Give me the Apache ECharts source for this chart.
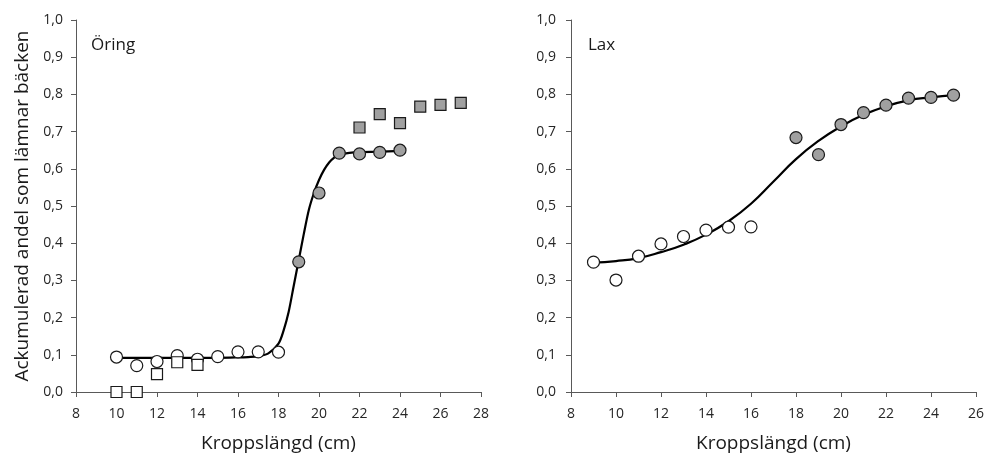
<!DOCTYPE html>
<html><head><meta charset="utf-8">
<script src="https://cdn.jsdelivr.net/npm/echarts@6/dist/echarts.min.js"></script>
<style>html,body{margin:0;padding:0;background:#fff}#c{width:985px;height:455px}</style>
</head><body><div id="c"></div>
<script>
// Öring (left)
const oringOpenCircleX = [10, 11, 12, 13, 14, 15, 16, 17, 18];
const oringOpenCircleY = [0.094, 0.071, 0.082, 0.098, 0.088, 0.095, 0.108, 0.108, 0.107];
const oringGrayCircleX = [19, 20, 21, 22, 23, 24];
const oringGrayCircleY = [0.350, 0.535, 0.642, 0.640, 0.644, 0.650];
const oringOpenSquareX = [10, 11, 12, 13, 14];
const oringOpenSquareY = [0.0, 0.0, 0.048, 0.080, 0.073];
const oringGraySquareX = [22, 23, 24, 25, 26, 27];
const oringGraySquareY = [0.711, 0.747, 0.723, 0.767, 0.772, 0.777];
const oringCurveX = [10, 11, 12, 13, 14, 15, 16, 16.5, 17, 17.5, 18, 18.25, 18.5, 18.75, 19, 19.25, 19.5, 19.75, 20, 20.25, 20.5, 20.75, 21, 21.5, 22, 23, 24];
const oringCurveY = [0.092, 0.092, 0.092, 0.092, 0.092, 0.092, 0.093, 0.094, 0.096, 0.104, 0.13, 0.165, 0.215, 0.285, 0.355, 0.425, 0.49, 0.535, 0.57, 0.597, 0.617, 0.63, 0.638, 0.643, 0.645, 0.646, 0.648];

// Lax (right)
const laxOpenCircleX = [9, 10, 11, 12, 13, 14, 15, 16];
const laxOpenCircleY = [0.349, 0.301, 0.365, 0.398, 0.418, 0.435, 0.443, 0.444];
const laxGrayCircleX = [18, 19, 20, 21, 22, 23, 24, 25];
const laxGrayCircleY = [0.684, 0.638, 0.719, 0.751, 0.771, 0.790, 0.792, 0.798];
const laxCurveX = [9, 10, 11, 12, 13, 14, 15, 16, 17, 18, 19, 20, 21, 22, 23, 24, 25];
const laxCurveY = [0.348, 0.352, 0.360, 0.376, 0.396, 0.423, 0.459, 0.506, 0.566, 0.626, 0.675, 0.714, 0.745, 0.768, 0.784, 0.792, 0.798];

// Axis ticks
const oringXTicks = {min: 8, max: 28, interval: 2};
const laxXTicks = {min: 8, max: 26, interval: 2};
const yTicks = {min: 0, max: 1, interval: 0.1};

const titles = ['Öring', 'Lax'];
const xTitle = 'Kroppslängd (cm)';
const yTitle = 'Ackumulerad andel som lämnar bäcken';

const FONT = '"Open Sans", "Liberation Sans", sans-serif';
const zip = (xs, ys) => xs.map((x, i) => [x, ys[i]]);
const axisCol = '#595959';

function xAxis(idx, t) {
  return {
    type: 'value', gridIndex: idx, min: t.min, max: t.max, interval: t.interval,
    name: xTitle, nameLocation: 'middle', nameGap: 42,
    nameTextStyle: {fontFamily: FONT, fontSize: 19, color: '#1a1a1a'},
    axisLine: {show: true, onZero: false, lineStyle: {color: axisCol, width: 1}},
    axisTick: {show: true, inside: false, length: 5, lineStyle: {color: axisCol}},
    axisLabel: {fontFamily: FONT, fontSize: 14, color: '#262626', margin: 15},
    splitLine: {show: false}
  };
}
function yAxis(idx, withName, margin) {
  return {
    type: 'value', gridIndex: idx, min: yTicks.min, max: yTicks.max, interval: yTicks.interval,
    name: withName ? yTitle : '', nameLocation: 'middle', nameGap: 44,
    nameTextStyle: {fontFamily: FONT, fontSize: 19, color: '#1a1a1a'},
    axisLine: {show: true, lineStyle: {color: axisCol, width: 1}},
    axisTick: {show: true, inside: false, length: 5, lineStyle: {color: axisCol}},
    axisLabel: {fontFamily: FONT, fontSize: 14, color: '#262626', margin: margin,
      formatter: v => v.toFixed(1).replace('.', ',')},
    splitLine: {show: false}
  };
}
const openStyle = {color: '#ffffff', borderColor: '#1a1a1a', borderWidth: 1.2, opacity: 1};
const grayStyle = {color: '#a0a0a0', borderColor: '#1a1a1a', borderWidth: 1.2, opacity: 1};
function scatter(idx, data, symbol, style) {
  return {type: 'scatter', xAxisIndex: idx, yAxisIndex: idx, data, symbol,
    symbolSize: symbol === 'rect' ? 11 : 12, itemStyle: style, z: 5, silent: true};
}
function curve(idx, data, sm) {
  return {type: 'line', xAxisIndex: idx, yAxisIndex: idx, data, smooth: sm,
    showSymbol: false, lineStyle: {color: '#000', width: 2.2}, z: 3, silent: true};
}

const chart = echarts.init(document.getElementById('c'), null, {renderer: 'canvas'});
chart.setOption({
  animation: false,
  backgroundColor: '#fff',
  title: [
    {text: titles[0], left: 86, top: 32, textStyle: {fontFamily: FONT, fontSize: 17, fontWeight: 'normal', color: '#1a1a1a'}},
    {text: titles[1], left: 583, top: 32, textStyle: {fontFamily: FONT, fontSize: 17, fontWeight: 'normal', color: '#1a1a1a'}}
  ],
  grid: [
    {left: 76, top: 20, width: 405, height: 372, containLabel: false, outerBoundsMode: 'none'},
    {left: 571, top: 20, width: 405, height: 372, containLabel: false, outerBoundsMode: 'none'}
  ],
  xAxis: [xAxis(0, oringXTicks), xAxis(1, laxXTicks)],
  yAxis: [yAxis(0, true, 13), yAxis(1, false, 15)],
  series: [
    curve(0, zip(oringCurveX, oringCurveY), 0.3),
    scatter(0, zip(oringOpenCircleX, oringOpenCircleY), 'circle', openStyle),
    scatter(0, zip(oringGrayCircleX, oringGrayCircleY), 'circle', grayStyle),
    scatter(0, zip(oringOpenSquareX, oringOpenSquareY), 'rect', openStyle),
    scatter(0, zip(oringGraySquareX, oringGraySquareY), 'rect', grayStyle),
    curve(1, zip(laxCurveX, laxCurveY), 0.5),
    scatter(1, zip(laxOpenCircleX, laxOpenCircleY), 'circle', openStyle),
    scatter(1, zip(laxGrayCircleX, laxGrayCircleY), 'circle', grayStyle)
  ]
});
</script></body></html>
